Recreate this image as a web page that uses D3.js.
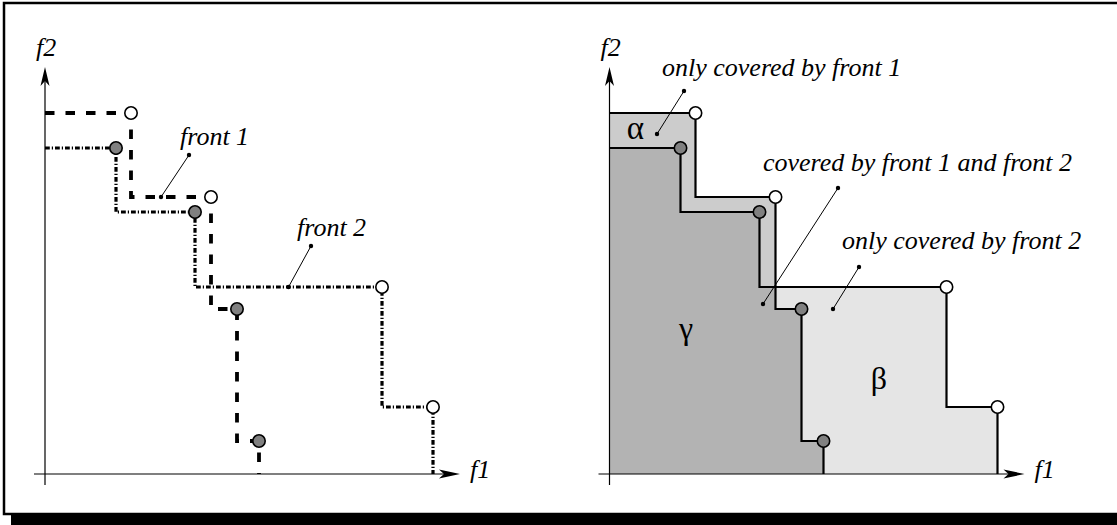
<!DOCTYPE html>
<html>
<head>
<meta charset="utf-8">
<script src="https://cdn.jsdelivr.net/npm/d3@7"></script>
<style>
  html, body { margin: 0; padding: 0; background: #fff; }
  svg { display: block; }
  text { font-family: "Liberation Serif", "DejaVu Serif", serif; }
</style>
</head>
<body>
<svg id="chart" width="1117" height="525"></svg>
<script>
// Two non-dominated fronts (objective values f1, f2), sorted by f1
const front1F1 = [8.6, 16.6, 19.2, 21.4];
const front1F2 = [36.1, 27.7, 16.5, 3.3];
const front2F1 = [7.1, 15.0, 33.7, 38.8];
const front2F2 = [32.6, 26.2, 18.7, 6.7];

const frontNames = ["front 1", "front 2"];
const axisLabels = ["f1", "f2"];
const regionSymbols = ["α", "β", "γ"];
const regionLabels = ["only covered by front 1", "covered by front 1 and front 2", "only covered by front 2"];

const front1 = front1F1.map((v, i) => ({ f1: v, f2: front1F2[i] }));
const front2 = front2F1.map((v, i) => ({ f1: v, f2: front2F2[i] }));

const W = 1117, H = 525;
const svg = d3.select("#chart");

// page frame with a drop shadow
svg.append("rect").attr("x", 11).attr("y", 12).attr("width", W + 20).attr("height", H)
  .attr("fill", "#000");
svg.append("rect").attr("x", 4).attr("y", 3).attr("width", W + 20).attr("height", 511)
  .attr("fill", "#fff").attr("stroke", "#000").attr("stroke-width", 2.5);

const y = d3.scaleLinear().domain([0, 40]).range([474, 74]);
const xLeft = d3.scaleLinear().domain([0, 40]).range([45, 445]);
const xRight = d3.scaleLinear().domain([0, 40]).range([609.5, 1009.5]);

const dominates = (q, p) => q.f1 >= p.f1 && q.f2 >= p.f2;
const isCovered = (p, other) => other.some(q => dominates(q, p));

function stairPoints(front) {
  const pts = [{ f1: 0, f2: front[0].f2 }];
  front.forEach((p, i) => {
    pts.push({ f1: p.f1, f2: p.f2 });
    const nextF2 = i < front.length - 1 ? front[i + 1].f2 : 0;
    pts.push({ f1: p.f1, f2: nextF2 });
  });
  return pts;
}

function drawAxes(g, x) {
  g.append("line")
    .attr("x1", x(-1.1)).attr("x2", x(40.6))
    .attr("y1", y(0)).attr("y2", y(0))
    .attr("stroke", "#000").attr("stroke-width", 1.2);
  g.append("line")
    .attr("x1", x(0)).attr("x2", x(0))
    .attr("y1", y(-1.1)).attr("y2", y(39.8))
    .attr("stroke", "#000").attr("stroke-width", 1.2);
  // arrow heads
  const tx = x(41.5), ty = y(0);
  g.append("path")
    .attr("d", `M${tx},${ty} L${tx - 21},${ty - 4.5} L${tx - 16},${ty} L${tx - 21},${ty + 4.5} Z`)
    .attr("fill", "#000");
  const ax = x(0), ay = y(40.7);
  g.append("path")
    .attr("d", `M${ax},${ay} L${ax - 4.5},${ay + 19} L${ax},${ay + 14} L${ax + 4.5},${ay + 19} Z`)
    .attr("fill", "#000");
  g.append("text").attr("x", x(42.5)).attr("y", y(-0.4))
    .attr("font-size", 26).attr("font-style", "italic").text(axisLabels[0]);
  g.append("text").attr("x", x(-0.9)).attr("y", y(41.8))
    .attr("font-size", 26).attr("font-style", "italic").text(axisLabels[1]);
}

function drawPoints(g, x) {
  const all = front1.map(p => ({ ...p, covered: isCovered(p, front2) }))
    .concat(front2.map(p => ({ ...p, covered: isCovered(p, front1) })));
  g.selectAll("circle.pt").data(all).join("circle")
    .attr("class", "pt")
    .attr("cx", d => x(d.f1)).attr("cy", d => y(d.f2)).attr("r", 6.2)
    .attr("fill", d => d.covered ? "#808080" : "#fff")
    .attr("stroke", "#000").attr("stroke-width", 1.6);
}

function leader(g, x1, y1, x2, y2) {
  g.append("line").attr("x1", x1).attr("y1", y1).attr("x2", x2).attr("y2", y2)
    .attr("stroke", "#000").attr("stroke-width", 1);
  [[x1, y1], [x2, y2]].forEach(([cx, cy]) =>
    g.append("circle").attr("cx", cx).attr("cy", cy).attr("r", 2.2).attr("fill", "#000"));
}

function label(g, tx, ty, str, size) {
  g.append("text").attr("x", tx).attr("y", ty)
    .attr("font-size", size).attr("font-style", "italic").text(str);
}

// ---------- left panel: the two fronts as step lines ----------
const left = svg.append("g");
drawAxes(left, xLeft);

const lineL = d3.line().x(d => xLeft(d.f1)).y(d => y(d.f2));
left.append("path").datum(stairPoints(front1)).attr("d", lineL)
  .attr("fill", "none").attr("stroke", "#000").attr("stroke-width", 3.8)
  .attr("stroke-dasharray", "9.5,11");
left.append("path").datum(stairPoints(front2)).attr("d", lineL)
  .attr("fill", "none").attr("stroke", "#000").attr("stroke-width", 3.2)
  .attr("stroke-dasharray", "4.8,2,1.2,2");

// leaders point onto each front's horizontal step
leader(left, 189, 155, xLeft((front1[0].f1 + front1[1].f1) / 2 - 1.0), y(front1[1].f2));
label(left, 180, 145, frontNames[0], 26);
leader(left, 311, 246, xLeft((front2[1].f1 + front2[2].f1) / 2), y(front2[2].f2));
label(left, 297, 236, frontNames[1], 26);
drawPoints(left, xLeft);

// ---------- right panel: regions covered by the fronts ----------
const right = svg.append("g");

function rects(g, items, fill) {
  g.selectAll(null).data(items).join("rect")
    .attr("x", xRight(0)).attr("y", d => y(d.f2))
    .attr("width", d => xRight(d.f1) - xRight(0))
    .attr("height", d => y(0) - y(d.f2))
    .attr("fill", fill);
}
// each point covers the box between the origin and itself
rects(right, front1, "#cccccc");
rects(right, front2, "#e5e5e5");
const both = [];
front1.forEach(p => front2.forEach(q =>
  both.push({ f1: Math.min(p.f1, q.f1), f2: Math.min(p.f2, q.f2) })));
rects(right, both, "#b3b3b3");

const lineR = d3.line().x(d => xRight(d.f1)).y(d => y(d.f2));
[front1, front2].forEach(f =>
  right.append("path").datum(stairPoints(f)).attr("d", lineR)
    .attr("fill", "none").attr("stroke", "#000").attr("stroke-width", 2.2)
    .attr("stroke-linejoin", "miter"));

drawAxes(right, xRight);

right.append("text").attr("x", 635.5).attr("y", 139).attr("text-anchor", "middle")
  .attr("font-size", 33).text(regionSymbols[0]);
right.append("text").attr("x", 879).attr("y", 389).attr("text-anchor", "middle")
  .attr("font-size", 32).text(regionSymbols[1]);
right.append("text").attr("x", 686).attr("y", 339).attr("text-anchor", "middle")
  .attr("font-size", 32).text(regionSymbols[2]);

leader(right, 684, 91, 657, 134);
label(right, 662, 76, regionLabels[0], 26);
leader(right, 838, 188, 763, 304);
label(right, 763, 171, regionLabels[1], 26);
leader(right, 859, 267, 833, 309);
label(right, 842, 249, regionLabels[2], 26);

drawPoints(right, xRight);
</script>
</body>
</html>
